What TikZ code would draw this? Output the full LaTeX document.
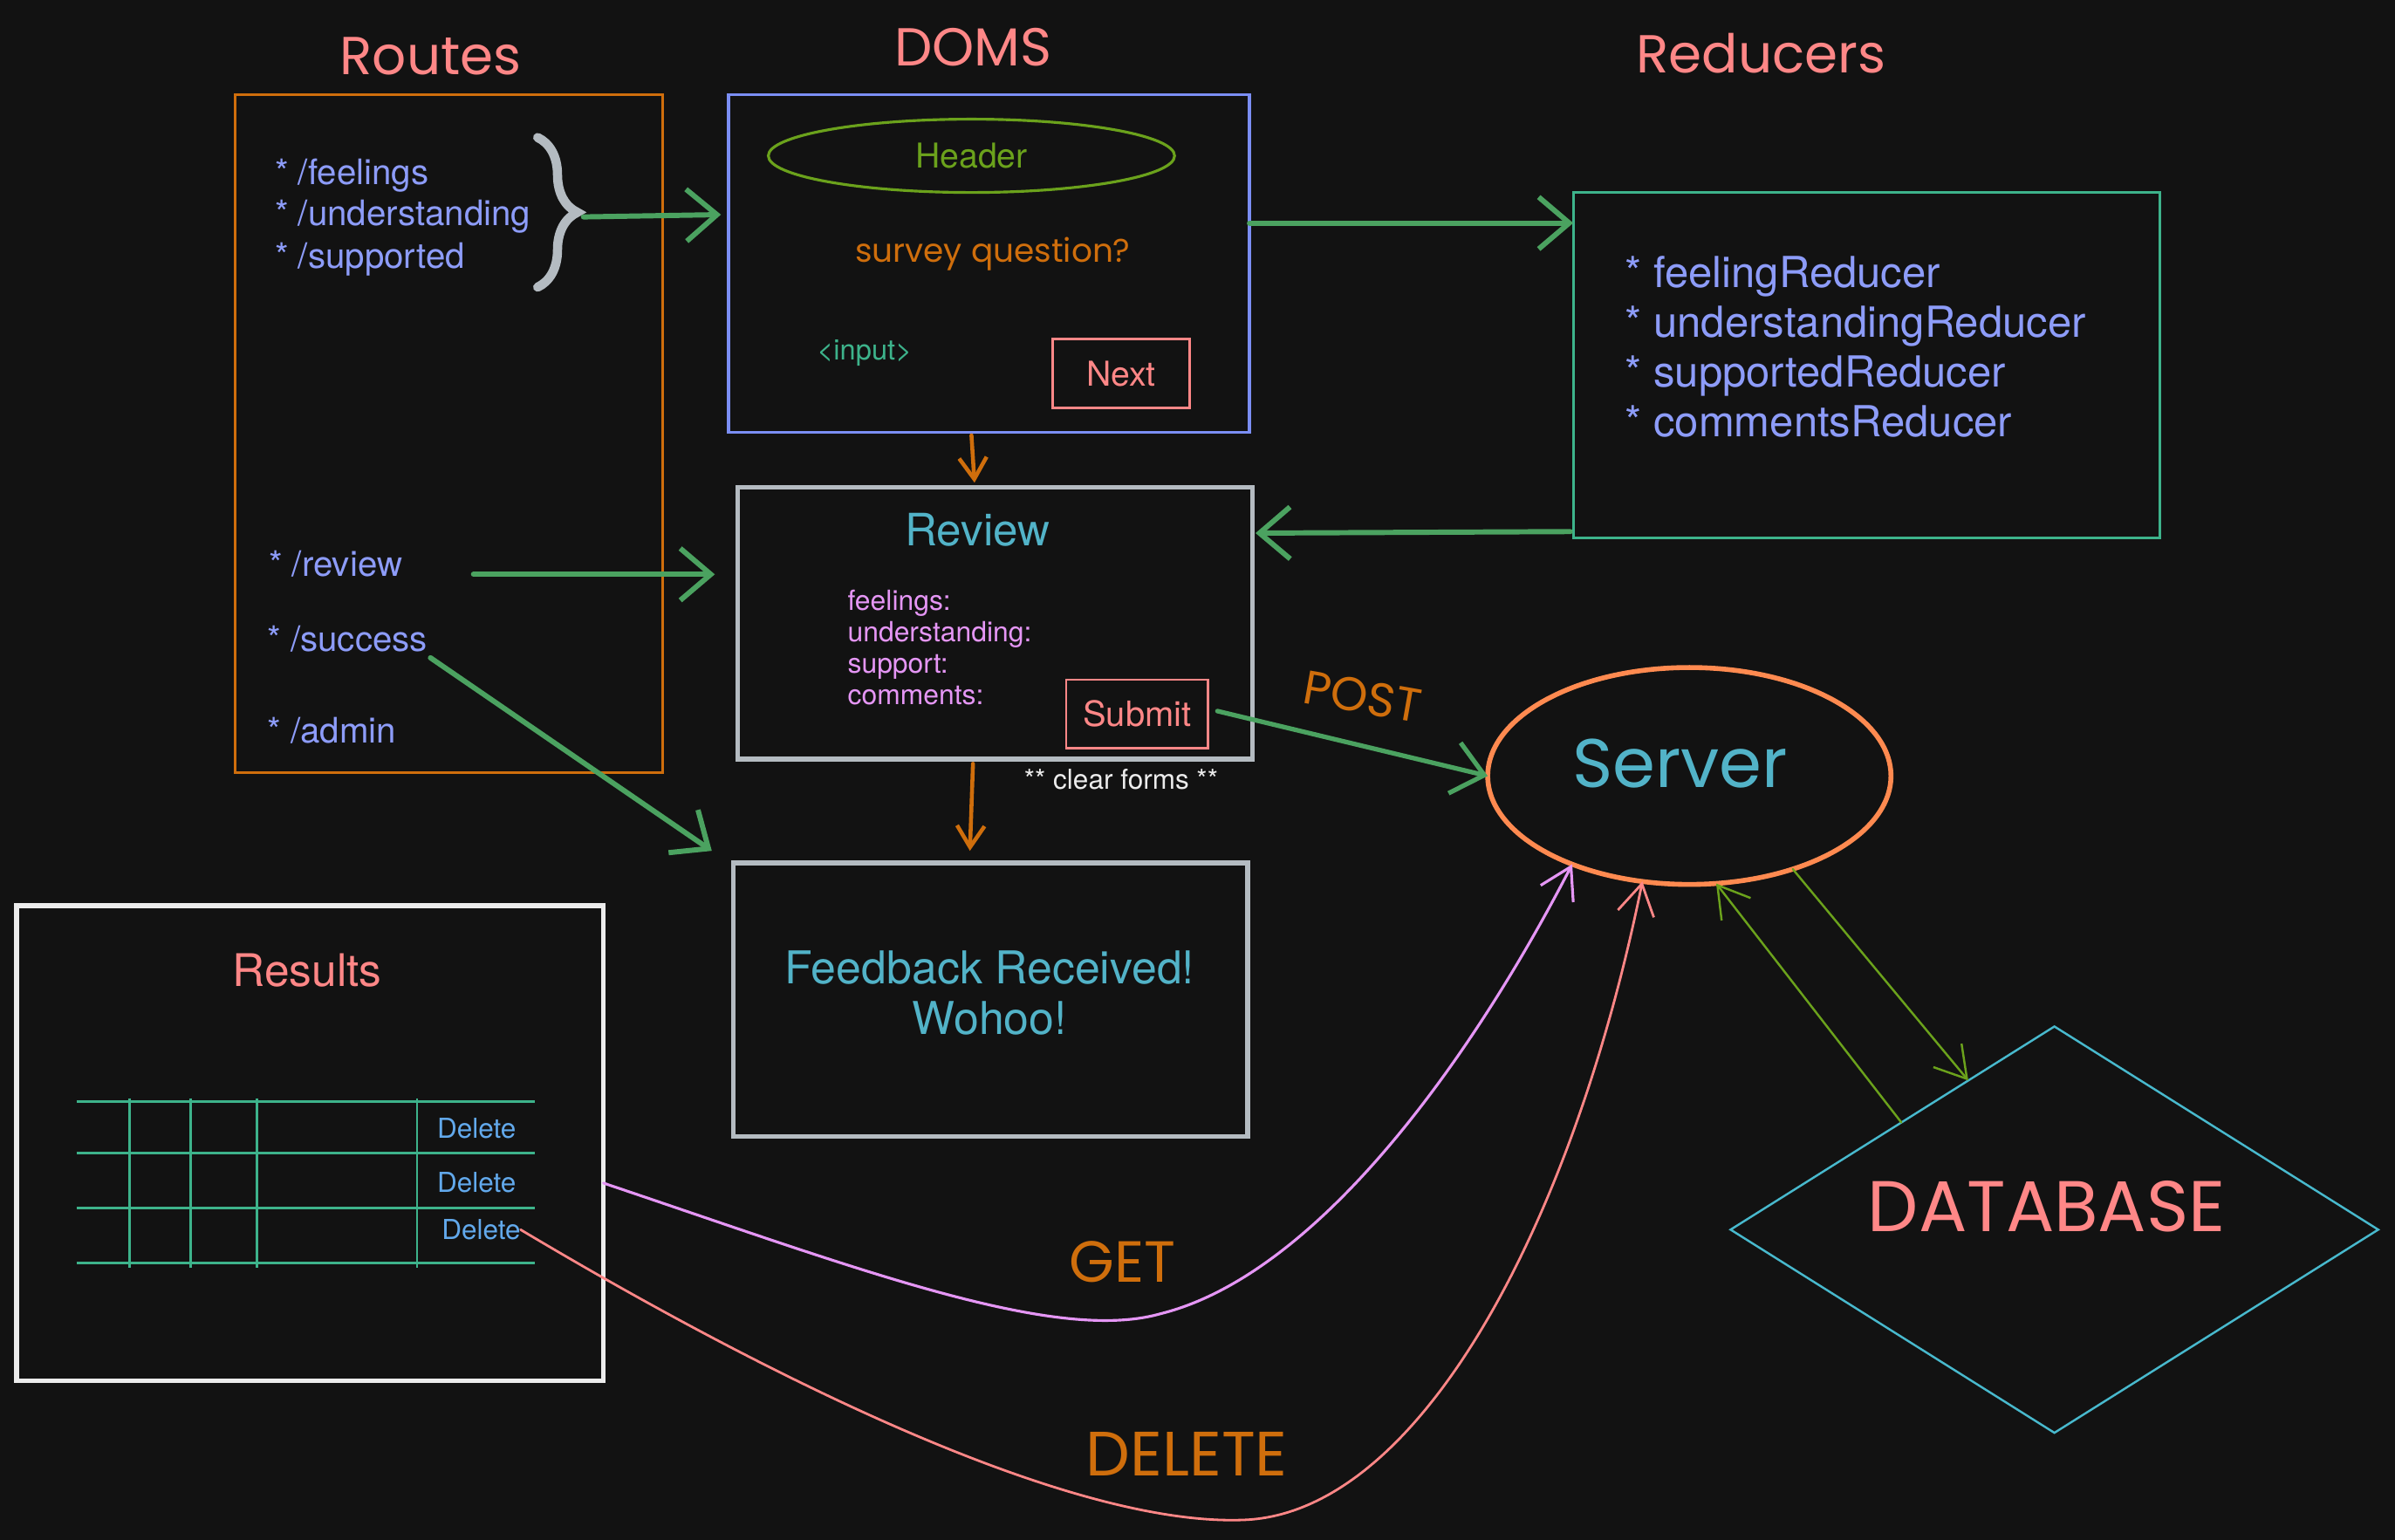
\documentclass[tikz,border=0pt]{standalone}
\usepackage{fontspec}
\setmainfont{TeX Gyre Heros}
\newfontfamily\hand{Poppins}
\usetikzlibrary{arrows.meta,shapes.geometric,decorations.pathreplacing,calc}
\definecolor{bg}{HTML}{121212}
\definecolor{salmon}{HTML}{FF8787}
\definecolor{orng}{HTML}{CF6E0C}
\definecolor{peri}{HTML}{8D9CF9}
\definecolor{domsblue}{HTML}{7B8EF4}
\definecolor{olive}{HTML}{6BA21C}
\definecolor{tealg}{HTML}{3DB38B}
\definecolor{agreen}{HTML}{4BA260}
\definecolor{lgray}{HTML}{B4BBC1}
\definecolor{cyantxt}{HTML}{52B3C8}
\definecolor{pinktxt}{HTML}{E596F5}
\definecolor{coral}{HTML}{FF8A50}
\definecolor{dbcyan}{HTML}{48B9CD}
\definecolor{dblue}{HTML}{62A9EC}
\definecolor{offwhite}{HTML}{ECECEC}
\newcommand\fsz[2]{\fontsize{#1}{#2}\selectfont}
\begin{document}
\begin{tikzpicture}[x=0.5pt,y=-0.5pt,
  every node/.style={inner sep=0pt, outer sep=0pt},
  box/.style={draw, rectangle, inner sep=0pt},
  title/.style={text=salmon, font=\hand\fsz{17.5}{20}},
  route/.style={text=peri, font=\fsz{11.5}{14}, anchor=west},
  handlbl/.style={text=orng, font=\hand\fsz{17}{20}},
  garrow/.style={draw=agreen, line width=1.7pt, line cap=round, -{Straight Barb[length=10pt,width=17pt]}},
  oarrow/.style={draw=orng, line width=1.3pt, line cap=round, -{Straight Barb[length=7pt,width=9pt]}},
  thinarrow/.style={line width=0.7pt, line cap=round, -{Straight Barb[length=10pt,width=12pt]}}
]
\fill[bg] (0,0) rectangle (1568,1008);
\useasboundingbox (0,0) rectangle (1568,1008);

% titles
\node[title] (tRoutes) at (282,37) {Routes};
\node[title] (tDoms) at (637,31) {DOMS};
\node[title] (tRed) at (1153,35) {Reducers};

% Routes box
\node[box, draw=orng, line width=0.8pt, minimum width=140pt, minimum height=222pt] (routes) at (294,284) {};
\node[route] (r1) at (180,115) {* /feelings};
\node[route] (r2) at (180,142) {* /understanding};
\node[route] (r3) at (180,170) {* /supported};
\node[route] (r4) at (176,369) {* /review};
\node[route] (r5) at (175,418) {* /success};
\node[route] (r6) at (175,478) {* /admin};
\draw[lgray, line width=3pt, line cap=round, decorate, decoration={brace, amplitude=13pt}] (352,90) -- (352,188);
\coordinate (btip) at (382,142);

% DOMS box
\node[box, draw=domsblue, line width=1.1pt, minimum width=170.5pt, minimum height=110.5pt] (doms) at (647.5,172.5) {};
\node[draw=olive, ellipse, line width=0.9pt, minimum width=133pt, minimum height=24pt, text=olive, font=\fsz{11.2}{13}] (hdr) at (636,102) {Header};
\node[text=orng, font=\hand\fsz{10.7}{12}] (sq) at (650,166) {survey question?};
\node[text=tealg, font=\fsz{9.3}{11}] (inp) at (566,231) {<input>};
\node[box, draw=salmon, line width=0.8pt, minimum width=45pt, minimum height=22.5pt, text=salmon, font=\fsz{11.2}{13}] (next) at (734,244.5) {Next};

% Reducers box
\node[box, draw=tealg, line width=0.8pt, minimum width=192pt, minimum height=113pt] (red) at (1222,239) {};
\node[anchor=west, align=left, text=peri, font=\fsz{14}{16.35}] (redlist) at (1064,227) {* feelingReducer\\* understandingReducer\\* supportedReducer\\* commentsReducer};

% Review box
\node[box, draw=lgray, line width=1.6pt, minimum width=168.5pt, minimum height=89pt] (rev) at (651.5,408) {};
\node[text=cyantxt, font=\fsz{14.6}{17}] (revt) at (640,347) {Review};
\node[anchor=west, align=left, text=pinktxt, font=\fsz{9.1}{10.3}] (revlist) at (555,424) {feelings:\\understanding:\\support:\\comments:};
\node[box, draw=salmon, line width=0.8pt, minimum width=46.5pt, minimum height=22.5pt, text=salmon, font=\fsz{11.4}{13}] (sub) at (744.5,467.5) {Submit};
\node[text=offwhite, font=\fsz{9}{11}] (clr) at (734,510) {** clear forms **};

% Feedback box
\node[box, draw=lgray, line width=1.6pt, minimum width=168.5pt, minimum height=89.5pt] (fb) at (648.5,654.5) {};
\node[align=center, text=cyantxt, font=\fsz{14.8}{16.5}] (fbt) at (648,650) {Feedback Received!\\Wohoo!};

% Server
\node[draw=coral, ellipse, line width=1.6pt, minimum width=132pt, minimum height=71pt] (srv) at (1106,508) {};
\node[text=cyantxt, font=\hand\fsz{22.5}{26}] (srvt) at (1100,500) {Server};

% Database
\node[draw=dbcyan, diamond, line width=0.7pt, minimum width=212pt, minimum height=133pt, aspect=1.594] (db) at (1345,805) {};
\node[text=salmon, font=\hand\fsz{23.5}{27}] (dbt) at (1340,790) {DATABASE};

% Results
\node[box, draw=offwhite, line width=1.6pt, minimum width=192pt, minimum height=155.5pt] (res) at (203,748.5) {};
\node[text=salmon, font=\fsz{14.7}{17}] (rest) at (201,635) {Results};
\foreach \yy in {721,755,791,827} \draw[tealg, line width=0.8pt] (50,\yy) -- (350,\yy);
\foreach \xx in {85,125,168,273} \draw[tealg, line width=0.8pt] (\xx,719) -- (\xx,830);
\node[text=dblue, font=\fsz{9}{11}] (d1) at (312,739) {Delete};
\node[text=dblue, font=\fsz{9}{11}] (d2) at (312,774) {Delete};
\node[text=dblue, font=\fsz{9}{11}] (d3) at (315,805) {Delete};

% connectors
\draw[garrow] (btip) -- ([xshift=-2.5pt, yshift=16pt]doms.west);
\coordinate (revstart) at (310,376);
\draw[garrow] (revstart) -- ([xshift=-7.5pt]revstart -| rev.west);
\draw[garrow] ([xshift=1pt, yshift=-2pt]r5.south east) -- ([xshift=-7pt, yshift=4pt]fb.north west);
\draw[garrow] ([yshift=13.25pt]doms.east) -- ([yshift=-10pt]red.north west);
\draw[garrow] ([xshift=-1pt, yshift=2pt]red.south west) -- ([xshift=1pt, yshift=29.5pt]rev.east);
\draw[oarrow] ([xshift=-5.75pt, yshift=-1pt]doms.south) -- ([xshift=-6.75pt, yshift=1.5pt]rev.north);
\draw[oarrow] ([xshift=-7.25pt, yshift=-1.5pt]rev.south) -- ([xshift=-6.75pt, yshift=4pt]fb.north);
\draw[garrow, line width=1.5pt] ([xshift=3pt, yshift=1pt]sub.east) -- (srv.west);
\node[handlbl, rotate=-10, font=\hand\fsz{15.5}{18}] (post) at (892,456) {POST};

\draw[thinarrow, draw=olive] (srv.-42) -- (db.120);
\draw[thinarrow, draw=olive] (db.145) -- (srv.-76);

\draw[thinarrow, draw=pinktxt, line width=0.9pt] ([yshift=-13pt]res.east) .. controls (560,830) and (690,880) .. (760,860) .. controls (860,835) and (960,700) .. (srv.-143);
\draw[thinarrow, draw=salmon, line width=0.8pt] (d3.east) .. controls (500,900) and (700,1000) .. (815,995) .. controls (930,990) and (1030,800) .. (srv.-114);
\node[handlbl, font=\hand\fsz{19}{21}] (get) at (735,826) {GET};
\node[handlbl, font=\hand\fsz{20.5}{23}] (del) at (777,952) {DELETE};
\end{tikzpicture}
\end{document}
